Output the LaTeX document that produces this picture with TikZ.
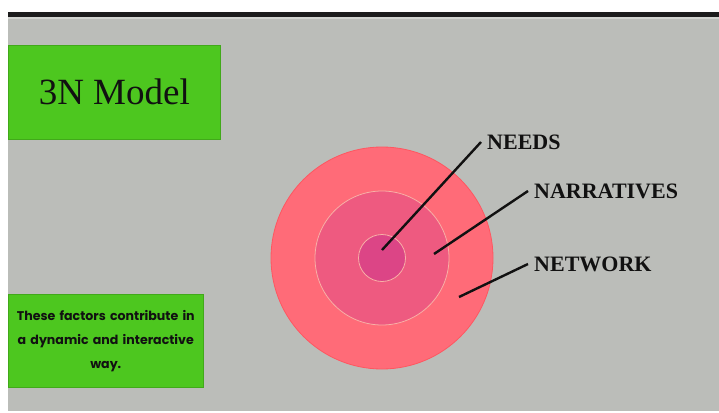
\documentclass[tikz,border=0pt]{standalone}
\usepackage{fontspec}
\setmainfont{Liberation Serif}
\newfontfamily\boxfont{Poppins}
\usetikzlibrary{positioning}
\definecolor{slidegray}{HTML}{BBBDB9}
\definecolor{slideedge}{HTML}{D2D4D0}
\definecolor{topbar}{HTML}{1C1C1C}
\definecolor{titlegreen}{HTML}{4DC71F}
\definecolor{outerpink}{HTML}{FF6B78}
\definecolor{midpink}{HTML}{EE5A80}
\definecolor{innerpink}{HTML}{DC4586}
\definecolor{ringline}{HTML}{F8B0A6}
\definecolor{textdark}{HTML}{111111}
\tikzset{
  % green boxes on the left
  greenbox/.style={
    fill=titlegreen, draw=titlegreen!85!black, line width=0.6pt,
    text=textdark, inner sep=0pt,
  },
  % rings of the model
  ring/.style={
    circle, fill=#1, draw=ringline, line width=0.8pt, inner sep=0pt,
  },
  % leader lines and their labels
  leader/.style={line width=2.4pt, draw=textdark},
  ringlabel/.style={
    anchor=west, font=\fontsize{22}{24}\selectfont\bfseries,
    text=textdark, inner sep=6pt,
  },
}
\begin{document}
\begin{tikzpicture}[x=1pt, y=-1pt]
  \useasboundingbox (0,0) rectangle (719,412);
  % slide
  \fill[white] (0,0) rectangle (719,412);
  \fill[slidegray] (8,17) rectangle (719,411);
  \fill[slideedge] (8,17) rectangle (719,19.5);
  \fill[topbar] (8,12.5) rectangle (719,17);

  % boxes on the left
  \node[greenbox, anchor=north west, minimum width=212pt, minimum height=94pt,
        font=\fontsize{37}{40}\selectfont] (title) at (8,45) {3N Model};
  \node[greenbox, anchor=north west, minimum width=195pt, minimum height=93pt,
        text width=193pt, align=center,
        font=\boxfont\bfseries\fontsize{12.6}{24}\selectfont] (note) at (8,294)
    {These factors contribute in\\ a dynamic and interactive\\ way.};

  % the three rings
  \node[ring=outerpink, draw=outerpink!80!red, minimum size=222pt] (network) at (382,258) {};
  \node[ring=midpink, minimum size=134pt] (narratives) at (network.center) {};
  \node[ring=innerpink, minimum size=47pt] (needs) at (network.center) {};

  % labels
  \node[ringlabel] (needslbl) at (481,142) {NEEDS};
  \node[ringlabel] (narrlbl) at (528,191) {NARRATIVES};
  \node[ringlabel] (netlbl) at (528,264) {NETWORK};

  \coordinate (needspt) at (382,250);
  \coordinate (narrpt) at (434,254);
  \coordinate (netpt) at (459,297);
  \draw[leader] (needspt) -- (needslbl.west);
  \draw[leader] (narrpt) -- (narrlbl.west);
  \draw[leader] (netpt) -- (netlbl.west);
\end{tikzpicture}
\end{document}
